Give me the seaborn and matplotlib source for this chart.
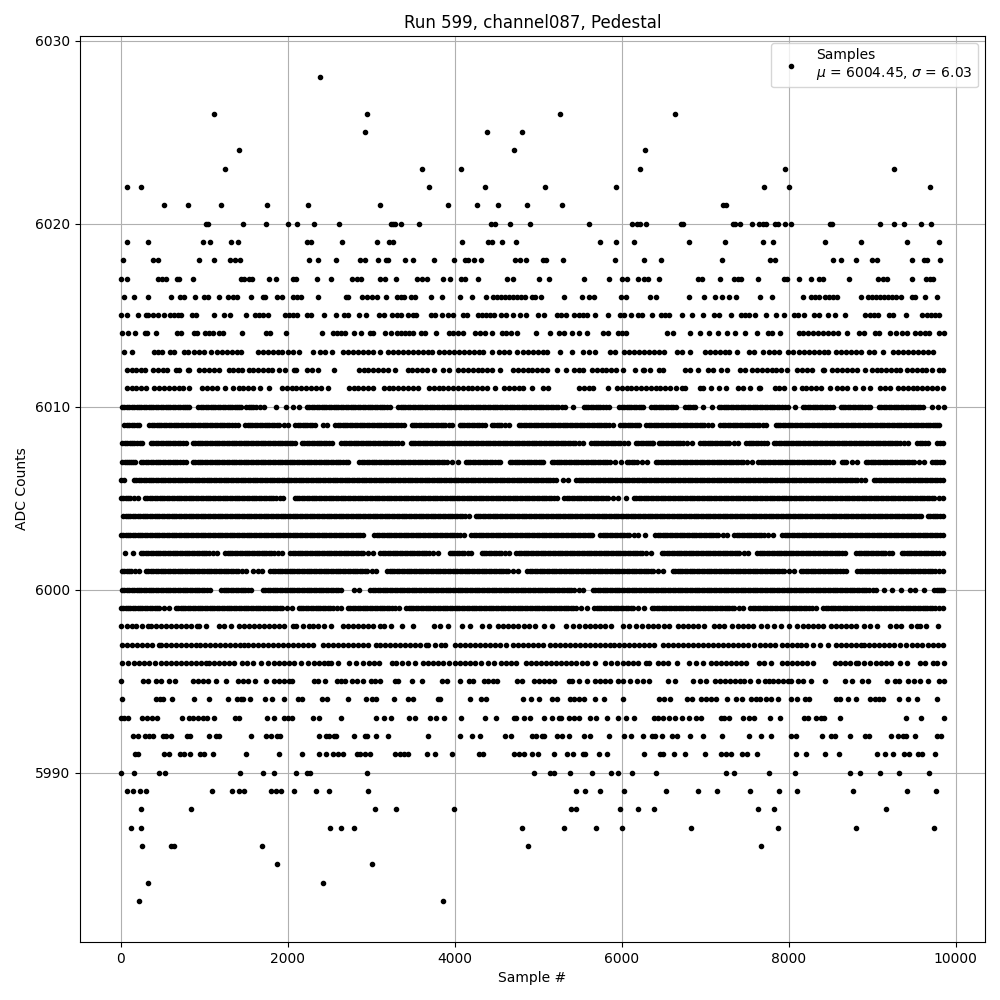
import pandas as pd
import matplotlib
matplotlib.use("Agg")
import matplotlib.pyplot as plt
import seaborn as sns

# sample numbers per ADC level
adc_6028 = [2384]
adc_6026 = [1124, 2948, 5268, 6636]
adc_6025 = [2924, 4388, 4808]
adc_6024 = [1412, 4712, 6276]
adc_6023 = [1244, 3608, 4076, 6216, 7956, 9264]
adc_6022 = [80, 248, 3692, 4364, 5088, 5928, 7704, 8004, 9696]
adc_6021 = [524, 812, 1196, 1748, 2240, 3104, 3920, 4268, 4520, 4868, 5292, 7212, 7252]
adc_6020 = [1020, 1044, 1460, 1736, 2000, 2108, 2312, 2612, 3240, 3268, 3292, 3356, 3572, 4432, 4488, 4664, 4904, 5604,
            6120, 6180, 6216, 6288, 6716, 6740, 7332, 7364, 7420, 7560, 7644, 7692, 7724, 7836, 7872, 7956, 8028, 8492,
            8516, 9096, 9264, 9384, 9588, 9708]
adc_6019 = [80, 332, 992, 1076, 1316, 1400, 2228, 2280, 2648, 3068, 3212, 3264, 4088, 4400, 4444, 4568, 4736, 5736, 5928,
            6144, 6804, 7236, 7692, 7812, 8436, 8868, 9420, 9804]
adc_6018 = [32, 392, 452, 944, 1124, 1304, 1364, 1424, 2252, 2360, 2576, 2864, 2924, 3080, 3176, 3200, 3404, 3500, 3752,
            3992, 4124, 4160, 4232, 4316, 4724, 4784, 4856, 5060, 5100, 5304, 5916, 6264, 6468, 7200, 7776, 7836, 8532,
            8624, 8808, 9000, 9060, 9476, 9624, 9660, 9816]
adc_6017 = [8, 80, 452, 500, 540, 680, 704, 872, 1436, 1472, 1532, 1568, 1772, 1856, 2060, 2100, 2348, 2516, 2768, 2828,
            2880, 3104, 3164, 3296, 3548, 3608, 3668, 3860, 3944, 4076, 4124, 4280, 4628, 4700, 5012, 5136, 5544, 5844,
            6000, 6060, 6192, 6272, 6312, 6444, 6912, 6960, 7176, 7344, 7392, 7428, 7632, 7944, 7980, 8124, 8268, 8364,
            8412, 8724, 9072, 9132, 9180, 9480, 9652, 9692, 9732]
adc_6016 = [44, 164, 332, 608, 716, 764, 896, 1004, 1044, 1172, 1280, 1340, 1388, 1556, 1700, 1732, 1868, 1928, 2060, 2108,
            2164, 2360, 2700, 2724, 2888, 2948, 3008, 3068, 3176, 3308, 3356, 3392, 3476, 3524, 3716, 3848, 4064, 4212,
            4376, 4460, 4508, 4556, 4604, 4652, 4700, 4748, 4796, 4844, 4928, 4964, 5032, 5312, 5520, 5604, 5664, 5988,
            6052, 6344, 6412, 6804, 6984, 7116, 7200, 7284, 7368, 7656, 7800, 8172, 8268, 8316, 8364, 8436, 8484, 8532,
            8580, 8868, 8952, 9000, 9048, 9096, 9144, 9192, 9240, 9288, 9348, 9480, 9516, 9636, 9780]
adc_6015 = [8, 80, 212, 308, 332, 392, 452, 524, 596, 644, 692, 728, 860, 908, 1124, 1232, 1304, 1496, 1604, 1652, 1700,
            1760, 1964, 2012, 2060, 2108, 2228, 2276, 2432, 2576, 2672, 2720, 2852, 2936, 3092, 3152, 3248, 3308, 3356,
            3440, 3500, 3536, 3716, 3764, 3848, 3920, 3980, 4100, 4148, 4280, 4328, 4376, 4424, 4472, 4556, 4616, 4700,
            4784, 4856, 5000, 5072, 5232, 5272, 5340, 5436, 5484, 5532, 5580, 5676, 5836, 5976, 6024, 6108, 6192, 6240,
            6360, 6468, 6516, 6564, 6720, 6840, 6972, 7104, 7164, 7312, 7428, 7476, 7524, 7596, 7728, 7848, 7944, 8064,
            8112, 8184, 8304, 8364, 8472, 8556, 8676, 8916, 8976, 9024, 9072, 9204, 9252, 9404, 9600, 9660, 9708, 9756, 9804]
adc_6014 = [20, 92, 176, 296, 320, 428, 680, 728, 884, 920, 1016, 1064, 1112, 1172, 1220, 1448, 1740, 1784, 1976, 2408,
            2540, 2588, 2636, 2684, 2792, 2876, 2984, 3020, 3164, 3236, 3308, 3356, 3404, 3452, 3500, 3596, 3644, 3776,
            3932, 3980, 4040, 4100, 4244, 4304, 4364, 4448, 4568, 4616, 4676, 4748, 4976, 5148, 5256, 5316, 5412, 5484,
            5580, 5772, 5832, 5952, 6000, 6048, 6540, 6612, 6816, 6936, 7044, 7152, 7260, 7356, 7476, 7620, 7752, 7800,
            7892, 8124, 8172, 8232, 8292, 8352, 8412, 8472, 8532, 8592, 8700, 8844, 8904, 9036, 9084, 9216, 9288, 9360,
            9420, 9516, 9576, 9636, 9684, 9804, 9860]
adc_6013 = [44, 140, 404, 452, 500, 596, 644, 764, 812, 884, 944, 1004, 1088, 1148, 1208, 1268, 1328, 1388, 1436, 1640,
            1700, 1760, 1820, 1880, 1928, 2000, 2060, 2132, 2300, 2384, 2444, 2528, 2660, 2720, 2780, 2840, 2900, 2960,
            3020, 3104, 3200, 3260, 3320, 3380, 3440, 3500, 3560, 3620, 3680, 3728, 3812, 3872, 3932, 3992, 4052, 4112,
            4172, 4232, 4292, 4340, 4448, 4532, 4592, 4652, 4748, 4820, 4880, 4940, 5000, 5060, 5108, 5268, 5412, 5532,
            5604, 5676, 5856, 5916, 6024, 6084, 6144, 6204, 6264, 6324, 6384, 6444, 6504, 6660, 6720, 6816, 6996, 7056,
            7116, 7176, 7236, 7284, 7380, 7524, 7584, 7692, 7764, 7824, 7884, 7992, 8052, 8124, 8184, 8244, 8304, 8364,
            8424, 8472, 8568, 8628, 8688, 8748, 8808, 8868, 8964, 9024, 9132, 9252, 9312, 9372, 9432, 9492, 9552, 9612,
            9672, 9732]
adc_6012 = [72, 130, 188, 246, 288, 392, 450, 508, 556, 660, 700, 804, 820, 940, 998, 1056, 1114, 1180, 1292, 1350, 1408,
            1448, 1532, 1590, 1648, 1706, 1764, 1808, 1900, 1974, 2072, 2096, 2232, 2290, 2368, 2560, 2852, 2910, 2968,
            3026, 3084, 3142, 3200, 3288, 3436, 3494, 3552, 3610, 3668, 3752, 3860, 3928, 4044, 4102, 4160, 4218, 4276,
            4334, 4392, 4450, 4540, 4700, 4758, 4816, 4874, 4932, 4990, 5048, 5108, 5232, 5332, 5436, 5494, 5540, 5644,
            5702, 5760, 5818, 5876, 5934, 6020, 6156, 6252, 6268, 6340, 6444, 6500, 6764, 6822, 6920, 7032, 7100, 7196,
            7260, 7424, 7480, 7564, 7622, 7680, 7738, 7796, 7854, 7912, 7980, 8104, 8162, 8220, 8280, 8412, 8428, 8524,
            8582, 8640, 8698, 8756, 8814, 8920, 8996, 9054, 9112, 9170, 9228, 9286, 9340, 9420, 9478, 9536, 9594, 9652,
            9720, 9804, 9852]
adc_6011 = [72, 130, 188, 246, 308, 404, 462, 520, 578, 636, 694, 752, 820, 980, 1038, 1096, 1154, 1248, 1340, 1412, 1470,
            1528, 1586, 1668, 1780, 1932, 1990, 2048, 2106, 2164, 2222, 2280, 2338, 2396, 2488, 2732, 2790, 2848, 2906,
            2964, 3020, 3152, 3210, 3268, 3326, 3384, 3442, 3500, 3556, 3692, 3750, 3808, 3866, 3924, 3982, 4040, 4098,
            4156, 4214, 4272, 4330, 4388, 4488, 4592, 4650, 4708, 4766, 4824, 4928, 5060, 5120, 5492, 5550, 5608, 5660,
            5832, 5944, 6002, 6060, 6118, 6176, 6234, 6292, 6350, 6408, 6466, 6524, 6582, 6652, 6724, 6760, 6944, 6972,
            7076, 7172, 7252, 7396, 7454, 7540, 7644, 7660, 7832, 7890, 7948, 8060, 8156, 8214, 8272, 8330, 8388, 8492,
            8584, 8642, 8700, 8800, 8892, 8972, 9100, 9158, 9220, 9312, 9370, 9428, 9486, 9544, 9602, 9660, 9718, 9776,
            9852]
adc_6010 = [16, 74, 132, 190, 248, 306, 364, 422, 480, 538, 596, 654, 712, 770, 820, 932, 990, 1048, 1106, 1164, 1222,
            1280, 1338, 1396, 1440, 1504, 1562, 1620, 1720, 1862, 1984, 2068, 2140, 2232, 2290, 2348, 2406, 2464, 2522,
            2580, 2638, 2696, 2754, 2812, 2870, 2928, 2986, 3044, 3102, 3160, 3228, 3324, 3382, 3440, 3498, 3556, 3614,
            3672, 3730, 3788, 3846, 3904, 3962, 4020, 4078, 4136, 4194, 4252, 4310, 4368, 4426, 4484, 4542, 4600, 4658,
            4716, 4774, 4832, 4890, 4948, 5006, 5064, 5122, 5180, 5238, 5328, 5424, 5544, 5602, 5660, 5718, 5776, 5852,
            5972, 6030, 6088, 6146, 6204, 6260, 6356, 6414, 6472, 6530, 6588, 6648, 6764, 6822, 6880, 6980, 7080, 7164,
            7222, 7280, 7338, 7396, 7454, 7512, 7570, 7628, 7686, 7744, 7802, 7860, 7918, 7988, 8076, 8172, 8230, 8288,
            8346, 8404, 8462, 8528, 8624, 8682, 8740, 8798, 8856, 8914, 8980, 9084, 9142, 9200, 9258, 9316, 9374, 9432,
            9490, 9548, 9612, 9724, 9788, 9860,
            45, 103, 161, 219, 277, 335, 393, 451, 509, 567, 625, 683, 741, 795, 961, 1019, 1077, 1135, 1193, 1251, 1309,
            1367, 1418, 1533, 1591, 1670, 2261, 2319, 2377, 2435, 2493, 2551, 2609, 2667, 2725, 2783, 2841, 2899, 2957,
            3015, 3073, 3131, 3194, 3353, 3411, 3469, 3527, 3585, 3643, 3701, 3759, 3817, 3875, 3933, 3991, 4049, 4107,
            4165, 4223, 4281, 4339, 4397, 4455, 4513, 4571, 4629, 4687, 4745, 4803, 4861, 4919, 4977, 5035, 5093, 5151,
            5209, 5283, 5573, 5631, 5689, 5747, 5814, 6001, 6059, 6117, 6175, 6232, 6385, 6443, 6501, 6559, 6618, 6793,
            6851, 7193, 7251, 7309, 7367, 7425, 7483, 7541, 7599, 7657, 7715, 7773, 7831, 7889, 7953, 8201, 8259, 8317,
            8375, 8433, 8495, 8653, 8711, 8769, 8827, 8885, 8947, 9113, 9171, 9229, 9287, 9345, 9403, 9461, 9519, 9580]
adc_6009 = [44, 102, 160, 220, 344, 402, 460, 518, 576, 634, 692, 750, 808, 866, 924, 982, 1040, 1098, 1156, 1214, 1272,
            1330, 1408, 1492, 1550, 1608, 1666, 1724, 1782, 1840, 1898, 2008, 2092, 2150, 2208, 2266, 2328, 2420, 2468,
            2572, 2630, 2688, 2746, 2804, 2862, 2920, 2978, 3036, 3094, 3152, 3210, 3268, 3326, 3388, 3484, 3542, 3600,
            3658, 3716, 3774, 3832, 3890, 3968, 4060, 4118, 4176, 4234, 4292, 4368, 4444, 4502, 4560, 4652, 4772, 4830,
            4888, 4946, 5004, 5062, 5120, 5178, 5236, 5294, 5352, 5410, 5468, 5526, 5584, 5642, 5700, 5758, 5816, 5892,
            5984, 6042, 6100, 6158, 6212, 6296, 6354, 6412, 6470, 6528, 6586, 6644, 6702, 6760, 6818, 6876, 6934, 6992,
            7080, 7184, 7242, 7300, 7358, 7416, 7474, 7532, 7590, 7648, 7732, 7844, 7902, 7960, 8018, 8076, 8134, 8192,
            8250, 8308, 8366, 8424, 8482, 8540, 8598, 8656, 8714, 8772, 8830, 8888, 8946, 9004, 9062, 9120, 9178, 9236,
            9294, 9352, 9410, 9468, 9526, 9584, 9642, 9700, 9758, 9808,
            73, 131, 190, 373, 431, 489, 547, 605, 663, 721, 779, 837, 895, 953, 1011, 1069, 1127, 1185, 1243, 1301, 1369,
            1521, 1579, 1637, 1695, 1753, 1811, 1869, 1953, 2121, 2179, 2237, 2297, 2601, 2659, 2717, 2775, 2833, 2891,
            2949, 3007, 3065, 3123, 3181, 3239, 3297, 3357, 3513, 3571, 3629, 3687, 3745, 3803, 3861, 3929, 4089, 4147,
            4205, 4263, 4330, 4473, 4531, 4606, 4801, 4859, 4917, 4975, 5033, 5091, 5149, 5207, 5265, 5323, 5381, 5439,
            5497, 5555, 5613, 5671, 5729, 5787, 5854, 6013, 6071, 6129, 6185, 6325, 6383, 6441, 6499, 6557, 6615, 6673,
            6731, 6789, 6847, 6905, 6963, 7036, 7213, 7271, 7329, 7387, 7445, 7503, 7561, 7619, 7690, 7873, 7931, 7989,
            8047, 8105, 8163, 8221, 8279, 8337, 8395, 8453, 8511, 8569, 8627, 8685, 8743, 8801, 8859, 8917, 8975, 9033,
            9091, 9149, 9207, 9265, 9323, 9381, 9439, 9497, 9555, 9613, 9671, 9729, 9783]
adc_6008 = [20, 78, 136, 194, 260, 364, 422, 480, 538, 596, 654, 712, 780, 864, 922, 980, 1038, 1096, 1154, 1212, 1270,
            1328, 1386, 1444, 1502, 1560, 1618, 1676, 1734, 1792, 1850, 1908, 1966, 2024, 2088, 2172, 2230, 2288, 2346,
            2404, 2462, 2532, 2644, 2702, 2760, 2818, 2876, 2934, 2992, 3050, 3108, 3166, 3224, 3282, 3368, 3472, 3530,
            3588, 3646, 3704, 3762, 3820, 3878, 3936, 3994, 4052, 4110, 4168, 4226, 4284, 4342, 4400, 4458, 4516, 4574,
            4632, 4690, 4748, 4806, 4864, 4922, 4980, 5038, 5096, 5154, 5212, 5270, 5328, 5386, 5444, 5532, 5636, 5694,
            5752, 5810, 5868, 5926, 5984, 6072, 6172, 6230, 6288, 6346, 6380, 6444, 6502, 6560, 6618, 6676, 6734, 6840,
            6944, 7002, 7060, 7118, 7176, 7234, 7292, 7392, 7492, 7550, 7608, 7666, 7740, 7824, 7882, 7940, 7998, 8056,
            8114, 8172, 8230, 8288, 8346, 8404, 8462, 8520, 8578, 8636, 8694, 8752, 8810, 8868, 8926, 8984, 9042, 9100,
            9158, 9216, 9274, 9332, 9428, 9544, 9602, 9672, 9776, 9852,
            49, 107, 165, 227, 393, 451, 509, 567, 625, 683, 746, 893, 951, 1009, 1067, 1125, 1183, 1241, 1299, 1357, 1415,
            1473, 1531, 1589, 1647, 1705, 1763, 1821, 1879, 1937, 1995, 2056, 2201, 2259, 2317, 2375, 2433, 2497, 2673,
            2731, 2789, 2847, 2905, 2963, 3021, 3079, 3137, 3195, 3253, 3325, 3501, 3559, 3617, 3675, 3733, 3791, 3849,
            3907, 3965, 4023, 4081, 4139, 4197, 4255, 4313, 4371, 4429, 4487, 4545, 4603, 4661, 4719, 4777, 4835, 4893,
            4951, 5009, 5067, 5125, 5183, 5241, 5299, 5357, 5415, 5488, 5665, 5723, 5781, 5839, 5897, 5955, 6028, 6201,
            6259, 6317, 6363, 6473, 6531, 6589, 6647, 6705, 6787, 6973, 7031, 7089, 7147, 7205, 7263, 7342, 7521, 7579,
            7637, 7703, 7853, 7911, 7969, 8027, 8085, 8143, 8201, 8259, 8317, 8375, 8433, 8491, 8549, 8607, 8665, 8723,
            8781, 8839, 8897, 8955, 9013, 9071, 9129, 9187, 9245, 9303, 9380, 9573, 9637, 9814]
adc_6007 = [20, 78, 120, 168, 244, 302, 360, 418, 476, 534, 592, 650, 708, 780, 864, 922, 980, 1038, 1096, 1154, 1212,
            1270, 1328, 1386, 1444, 1502, 1560, 1618, 1676, 1734, 1792, 1850, 1908, 1966, 2024, 2082, 2140, 2198, 2256,
            2314, 2372, 2430, 2488, 2546, 2604, 2662, 2728, 2860, 2918, 2976, 3034, 3092, 3150, 3208, 3266, 3324, 3382,
            3440, 3498, 3556, 3614, 3672, 3730, 3788, 3846, 3904, 4036, 4132, 4190, 4248, 4306, 4364, 4422, 4480, 4548,
            4660, 4718, 4776, 4834, 4892, 4950, 5008, 5060, 5164, 5222, 5280, 5338, 5396, 5454, 5512, 5570, 5628, 5686,
            5744, 5802, 5860, 5988, 6064, 6122, 6180, 6300, 6412, 6470, 6528, 6586, 6644, 6702, 6760, 6818, 6876, 6934,
            6992, 7050, 7108, 7166, 7224, 7282, 7340, 7398, 7456, 7560, 7636, 7694, 7752, 7810, 7868, 7926, 7984, 8042,
            8100, 8158, 8216, 8274, 8332, 8390, 8448, 8532, 8636, 8694, 8820, 8924, 8982, 9040, 9098, 9156, 9214, 9272,
            9330, 9388, 9446, 9504, 9620, 9724, 9782, 9852,
            49, 99, 144, 273, 331, 389, 447, 505, 563, 621, 679, 744, 893, 951, 1009, 1067, 1125, 1183, 1241, 1299, 1357,
            1415, 1473, 1531, 1589, 1647, 1705, 1763, 1821, 1879, 1937, 1995, 2053, 2111, 2169, 2227, 2285, 2343, 2401,
            2459, 2517, 2575, 2633, 2695, 2889, 2947, 3005, 3063, 3121, 3179, 3237, 3295, 3353, 3411, 3469, 3527, 3585,
            3643, 3701, 3759, 3817, 3875, 3970, 4161, 4219, 4277, 4335, 4393, 4451, 4514, 4689, 4747, 4805, 4863, 4921,
            4979, 5034, 5193, 5251, 5309, 5367, 5425, 5483, 5541, 5599, 5657, 5715, 5773, 5831, 5924, 6093, 6151, 6240,
            6441, 6499, 6557, 6615, 6673, 6731, 6789, 6847, 6905, 6963, 7021, 7079, 7137, 7195, 7253, 7311, 7369, 7427,
            7508, 7665, 7723, 7781, 7839, 7897, 7955, 8013, 8071, 8129, 8187, 8245, 8303, 8361, 8419, 8490, 8665, 8757,
            8953, 9011, 9069, 9127, 9185, 9243, 9301, 9359, 9417, 9475, 9562, 9753, 9817]
adc_6006 = [0, 36, 160, 218, 276, 334, 392, 450, 508, 566, 624, 682, 740, 798, 856, 914, 972, 1030, 1088, 1146, 1204, 1262,
            1320, 1378, 1436, 1494, 1552, 1610, 1668, 1726, 1784, 1842, 1900, 1958, 2016, 2074, 2132, 2190, 2248, 2306,
            2364, 2422, 2480, 2538, 2596, 2654, 2712, 2770, 2828, 2886, 2944, 3002, 3060, 3118, 3176, 3234, 3292, 3350,
            3408, 3466, 3524, 3582, 3640, 3698, 3756, 3814, 3872, 3930, 3988, 4046, 4104, 4162, 4220, 4278, 4336, 4394,
            4452, 4510, 4568, 4626, 4684, 4742, 4800, 4858, 4916, 4974, 5032, 5090, 5148, 5212, 5300, 5360, 5456, 5514,
            5572, 5630, 5688, 5746, 5804, 5862, 5920, 5978, 6036, 6094, 6152, 6210, 6268, 6326, 6384, 6442, 6500, 6558,
            6616, 6674, 6732, 6790, 6848, 6906, 6964, 7022, 7080, 7138, 7196, 7254, 7312, 7370, 7428, 7486, 7544, 7602,
            7660, 7718, 7776, 7834, 7892, 7950, 8008, 8066, 8124, 8182, 8240, 8298, 8356, 8414, 8472, 8530, 8588, 8646,
            8704, 8762, 8820, 8920, 9024, 9082, 9140, 9198, 9256, 9314, 9372, 9430, 9488, 9546, 9604, 9662, 9720, 9778,
            9852,
            189, 247, 305, 363, 421, 479, 537, 595, 653, 711, 769, 827, 885, 943, 1001, 1059, 1117, 1175, 1233, 1291, 1349,
            1407, 1465, 1523, 1581, 1639, 1697, 1755, 1813, 1871, 1929, 1987, 2045, 2103, 2161, 2219, 2277, 2335, 2393,
            2451, 2509, 2567, 2625, 2683, 2741, 2799, 2857, 2915, 2973, 3031, 3089, 3147, 3205, 3263, 3321, 3379, 3437,
            3495, 3553, 3611, 3669, 3727, 3785, 3843, 3901, 3959, 4017, 4075, 4133, 4191, 4249, 4307, 4365, 4423, 4481,
            4539, 4597, 4655, 4713, 4771, 4829, 4887, 4945, 5003, 5061, 5119, 5180, 5485, 5543, 5601, 5659, 5717, 5775,
            5833, 5891, 5949, 6007, 6065, 6123, 6181, 6239, 6297, 6355, 6413, 6471, 6529, 6587, 6645, 6703, 6761, 6819,
            6877, 6935, 6993, 7051, 7109, 7167, 7225, 7283, 7341, 7399, 7457, 7515, 7573, 7631, 7689, 7747, 7805, 7863,
            7921, 7979, 8037, 8095, 8153, 8211, 8269, 8327, 8385, 8443, 8501, 8559, 8617, 8675, 8733, 8791, 8870, 9053,
            9111, 9169, 9227, 9285, 9343, 9401, 9459, 9517, 9575, 9633, 9691, 9749, 9815]
adc_6005 = [0, 58, 116, 208, 292, 350, 408, 466, 524, 582, 640, 698, 756, 814, 872, 930, 988, 1046, 1104, 1162, 1220, 1278,
            1336, 1394, 1452, 1510, 1568, 1626, 1684, 1742, 1800, 1858, 1948, 2084, 2142, 2200, 2258, 2316, 2374, 2432,
            2490, 2548, 2606, 2664, 2722, 2780, 2838, 2896, 2954, 3012, 3070, 3128, 3186, 3244, 3302, 3360, 3418, 3476,
            3534, 3592, 3650, 3708, 3766, 3824, 3882, 3940, 3998, 4056, 4114, 4172, 4230, 4288, 4346, 4404, 4462, 4520,
            4578, 4636, 4694, 4752, 4810, 4868, 4926, 4984, 5042, 5100, 5158, 5228, 5316, 5374, 5432, 5490, 5548, 5606,
            5664, 5722, 5780, 5838, 5960, 6052, 6148, 6206, 6264, 6322, 6380, 6438, 6496, 6554, 6612, 6670, 6728, 6786,
            6844, 6902, 6960, 7018, 7076, 7134, 7192, 7250, 7308, 7366, 7424, 7482, 7540, 7598, 7656, 7714, 7772, 7830,
            7888, 7946, 8004, 8062, 8120, 8178, 8236, 8294, 8352, 8410, 8468, 8526, 8584, 8642, 8700, 8758, 8816, 8874,
            8932, 8990, 9048, 9106, 9164, 9222, 9280, 9338, 9396, 9454, 9512, 9570, 9628, 9686, 9744, 9852,
            29, 87, 162, 321, 379, 437, 495, 553, 611, 669, 727, 785, 843, 901, 959, 1017, 1075, 1133, 1191, 1249, 1307,
            1365, 1423, 1481, 1539, 1597, 1655, 1713, 1771, 1829, 1903, 2113, 2171, 2229, 2287, 2345, 2403, 2461, 2519,
            2577, 2635, 2693, 2751, 2809, 2867, 2925, 2983, 3041, 3099, 3157, 3215, 3273, 3331, 3389, 3447, 3505, 3563,
            3621, 3679, 3737, 3795, 3853, 3911, 3969, 4027, 4085, 4143, 4201, 4259, 4317, 4375, 4433, 4491, 4549, 4607,
            4665, 4723, 4781, 4839, 4897, 4955, 5013, 5071, 5129, 5193, 5345, 5403, 5461, 5519, 5577, 5635, 5693, 5751,
            5809, 5899, 6177, 6235, 6293, 6351, 6409, 6467, 6525, 6583, 6641, 6699, 6757, 6815, 6873, 6931, 6989, 7047,
            7105, 7163, 7221, 7279, 7337, 7395, 7453, 7511, 7569, 7627, 7685, 7743, 7801, 7859, 7917, 7975, 8033, 8091,
            8149, 8207, 8265, 8323, 8381, 8439, 8497, 8555, 8613, 8671, 8729, 8787, 8845, 8903, 8961, 9019, 9077, 9135,
            9193, 9251, 9309, 9367, 9425, 9483, 9541, 9599, 9657, 9715, 9798]
adc_6004 = [30, 88, 146, 204, 262, 320, 378, 436, 494, 552, 610, 668, 726, 784, 842, 900, 958, 1016, 1074, 1132, 1190, 1248,
            1306, 1364, 1422, 1480, 1538, 1596, 1654, 1712, 1770, 1828, 1886, 1944, 2002, 2060, 2118, 2176, 2234, 2292,
            2350, 2408, 2466, 2524, 2582, 2640, 2698, 2756, 2814, 2872, 2930, 2988, 3046, 3104, 3162, 3220, 3278, 3336,
            3394, 3452, 3510, 3568, 3626, 3684, 3742, 3800, 3858, 3916, 3974, 4032, 4090, 4168, 4252, 4310, 4368, 4426,
            4484, 4542, 4600, 4658, 4716, 4774, 4832, 4890, 4948, 5006, 5064, 5122, 5180, 5238, 5296, 5354, 5412, 5470,
            5528, 5586, 5644, 5702, 5760, 5818, 5876, 5934, 5992, 6050, 6108, 6166, 6224, 6282, 6340, 6398, 6456, 6514,
            6572, 6630, 6688, 6746, 6804, 6862, 6920, 6978, 7036, 7094, 7152, 7210, 7268, 7326, 7384, 7442, 7500, 7558,
            7616, 7674, 7732, 7790, 7848, 7906, 7964, 8022, 8080, 8138, 8196, 8254, 8312, 8370, 8428, 8486, 8544, 8602,
            8660, 8718, 8776, 8834, 8892, 8950, 9008, 9066, 9124, 9182, 9240, 9298, 9356, 9414, 9472, 9530, 9592, 9668,
            9726, 9784, 9852,
            59, 117, 175, 233, 291, 349, 407, 465, 523, 581, 639, 697, 755, 813, 871, 929, 987, 1045, 1103, 1161, 1219,
            1277, 1335, 1393, 1451, 1509, 1567, 1625, 1683, 1741, 1799, 1857, 1915, 1973, 2031, 2089, 2147, 2205, 2263,
            2321, 2379, 2437, 2495, 2553, 2611, 2669, 2727, 2785, 2843, 2901, 2959, 3017, 3075, 3133, 3191, 3249, 3307,
            3365, 3423, 3481, 3539, 3597, 3655, 3713, 3771, 3829, 3887, 3945, 4003, 4061, 4129, 4281, 4339, 4397, 4455,
            4513, 4571, 4629, 4687, 4745, 4803, 4861, 4919, 4977, 5035, 5093, 5151, 5209, 5267, 5325, 5383, 5441, 5499,
            5557, 5615, 5673, 5731, 5789, 5847, 5905, 5963, 6021, 6079, 6137, 6195, 6253, 6311, 6369, 6427, 6485, 6543,
            6601, 6659, 6717, 6775, 6833, 6891, 6949, 7007, 7065, 7123, 7181, 7239, 7297, 7355, 7413, 7471, 7529, 7587,
            7645, 7703, 7761, 7819, 7877, 7935, 7993, 8051, 8109, 8167, 8225, 8283, 8341, 8399, 8457, 8515, 8573, 8631,
            8689, 8747, 8805, 8863, 8921, 8979, 9037, 9095, 9153, 9211, 9269, 9327, 9385, 9443, 9501, 9561, 9697, 9755, 9818]
adc_6003 = [0, 58, 116, 174, 232, 290, 348, 406, 464, 522, 580, 638, 696, 754, 812, 870, 928, 986, 1044, 1102, 1160, 1218,
            1276, 1334, 1392, 1450, 1508, 1566, 1624, 1682, 1740, 1798, 1856, 1914, 1972, 2030, 2088, 2146, 2204, 2262,
            2320, 2378, 2436, 2494, 2552, 2610, 2668, 2726, 2784, 2842, 2900, 3040, 3098, 3156, 3214, 3272, 3330, 3388,
            3446, 3504, 3562, 3620, 3678, 3736, 3794, 3852, 3910, 3968, 4026, 4108, 4200, 4258, 4316, 4374, 4432, 4490,
            4548, 4606, 4664, 4722, 4780, 4838, 4896, 4954, 5012, 5070, 5128, 5186, 5244, 5302, 5360, 5418, 5476, 5534,
            5592, 5648, 5744, 5802, 5860, 5918, 5976, 6034, 6092, 6200, 6284, 6404, 6462, 6520, 6578, 6636, 6694, 6752,
            6810, 6868, 6926, 6984, 7042, 7100, 7158, 7260, 7352, 7410, 7468, 7526, 7584, 7642, 7700, 7808, 7924, 7982,
            8040, 8098, 8156, 8214, 8272, 8330, 8388, 8446, 8504, 8562, 8620, 8678, 8736, 8794, 8852, 8910, 8968, 9026,
            9084, 9142, 9200, 9258, 9316, 9374, 9432, 9490, 9548, 9606, 9664, 9722, 9780, 9852,
            29, 87, 145, 203, 261, 319, 377, 435, 493, 551, 609, 667, 725, 783, 841, 899, 957, 1015, 1073, 1131, 1189, 1247,
            1305, 1363, 1421, 1479, 1537, 1595, 1653, 1711, 1769, 1827, 1885, 1943, 2001, 2059, 2117, 2175, 2233, 2291,
            2349, 2407, 2465, 2523, 2581, 2639, 2697, 2755, 2813, 2871, 3069, 3127, 3185, 3243, 3301, 3359, 3417, 3475,
            3533, 3591, 3649, 3707, 3765, 3823, 3881, 3939, 3997, 4067, 4229, 4287, 4345, 4403, 4461, 4519, 4577, 4635,
            4693, 4751, 4809, 4867, 4925, 4983, 5041, 5099, 5157, 5215, 5273, 5331, 5389, 5447, 5505, 5563, 5620, 5773,
            5831, 5889, 5947, 6005, 6063, 6146, 6433, 6491, 6549, 6607, 6665, 6723, 6781, 6839, 6897, 6955, 7013, 7071,
            7129, 7209, 7381, 7439, 7497, 7555, 7613, 7671, 7754, 7953, 8011, 8069, 8127, 8185, 8243, 8301, 8359, 8417,
            8475, 8533, 8591, 8649, 8707, 8765, 8823, 8881, 8939, 8997, 9055, 9113, 9171, 9229, 9287, 9345, 9403, 9461,
            9519, 9577, 9635, 9693, 9751, 9816]
adc_6002 = [52, 148, 244, 302, 360, 418, 476, 534, 592, 650, 708, 766, 824, 882, 940, 998, 1056, 1148, 1252, 1310, 1368,
            1426, 1484, 1542, 1600, 1658, 1716, 1774, 1832, 1928, 2032, 2090, 2148, 2206, 2264, 2322, 2380, 2438, 2496,
            2554, 2612, 2670, 2728, 2786, 2844, 2902, 3020, 3112, 3170, 3228, 3286, 3344, 3402, 3460, 3518, 3576, 3634,
            3692, 3796, 3940, 3998, 4056, 4114, 4196, 4324, 4382, 4440, 4498, 4556, 4648, 4740, 4798, 4856, 4914, 4972,
            5030, 5088, 5146, 5204, 5262, 5320, 5378, 5436, 5494, 5552, 5610, 5668, 5726, 5784, 5842, 5900, 5958, 6016,
            6074, 6132, 6190, 6248, 6348, 6484, 6542, 6600, 6658, 6716, 6774, 6832, 6890, 6948, 7006, 7064, 7122, 7180,
            7238, 7296, 7354, 7412, 7512, 7624, 7682, 7740, 7798, 7856, 7914, 7972, 8030, 8088, 8146, 8204, 8262, 8320,
            8378, 8436, 8494, 8552, 8610, 8680, 8812, 8870, 8928, 8986, 9044, 9102, 9160, 9240, 9356, 9414, 9472, 9530,
            9588, 9646, 9704, 9762, 9852,
            273, 331, 389, 447, 505, 563, 621, 679, 737, 795, 853, 911, 969, 1027, 1102, 1281, 1339, 1397, 1455, 1513, 1571,
            1629, 1687, 1745, 1803, 1880, 2061, 2119, 2177, 2235, 2293, 2351, 2409, 2467, 2525, 2583, 2641, 2699, 2757,
            2815, 2873, 2961, 3141, 3199, 3257, 3315, 3373, 3431, 3489, 3547, 3605, 3663, 3744, 3969, 4027, 4085, 4155,
            4353, 4411, 4469, 4527, 4602, 4769, 4827, 4885, 4943, 5001, 5059, 5117, 5175, 5233, 5291, 5349, 5407, 5465,
            5523, 5581, 5639, 5697, 5755, 5813, 5871, 5929, 5987, 6045, 6103, 6161, 6219, 6298, 6513, 6571, 6629, 6687,
            6745, 6803, 6861, 6919, 6977, 7035, 7093, 7151, 7209, 7267, 7325, 7383, 7462, 7653, 7711, 7769, 7827, 7885,
            7943, 8001, 8059, 8117, 8175, 8233, 8291, 8349, 8407, 8465, 8523, 8581, 8645, 8841, 8899, 8957, 9015, 9073,
            9131, 9200, 9385, 9443, 9501, 9559, 9617, 9675, 9733, 9807]
adc_6001 = [12, 70, 128, 216, 304, 362, 420, 478, 536, 594, 652, 710, 768, 826, 884, 942, 1000, 1058, 1116, 1174, 1232,
            1290, 1348, 1406, 1496, 1584, 1640, 1696, 1792, 1850, 1908, 1966, 2024, 2082, 2140, 2198, 2256, 2314, 2372,
            2430, 2488, 2546, 2604, 2662, 2720, 2778, 2836, 2894, 2952, 3060, 3192, 3250, 3308, 3366, 3424, 3482, 3540,
            3598, 3656, 3714, 3772, 3830, 3888, 3946, 4004, 4062, 4120, 4178, 4236, 4294, 4352, 4410, 4468, 4526, 4584,
            4642, 4756, 4872, 4930, 4988, 5046, 5104, 5162, 5220, 5278, 5336, 5394, 5452, 5510, 5568, 5626, 5684, 5742,
            5800, 5858, 5916, 5974, 6032, 6090, 6148, 6206, 6264, 6322, 6380, 6492, 6612, 6670, 6728, 6786, 6844, 6902,
            6960, 7018, 7076, 7134, 7192, 7250, 7308, 7366, 7424, 7482, 7540, 7598, 7656, 7714, 7772, 7830, 7888, 7946,
            8060, 8148, 8206, 8264, 8322, 8380, 8438, 8496, 8554, 8612, 8688, 8824, 8882, 8940, 8998, 9056, 9114, 9172,
            9230, 9288, 9346, 9404, 9462, 9520, 9578, 9636, 9694, 9752, 9852,
            41, 99, 172, 333, 391, 449, 507, 565, 623, 681, 739, 797, 855, 913, 971, 1029, 1087, 1145, 1203, 1261, 1319,
            1377, 1451, 1821, 1879, 1937, 1995, 2053, 2111, 2169, 2227, 2285, 2343, 2401, 2459, 2517, 2575, 2633, 2691,
            2749, 2807, 2865, 2923, 3006, 3221, 3279, 3337, 3395, 3453, 3511, 3569, 3627, 3685, 3743, 3801, 3859, 3917,
            3975, 4033, 4091, 4149, 4207, 4265, 4323, 4381, 4439, 4497, 4555, 4613, 4699, 4901, 4959, 5017, 5075, 5133,
            5191, 5249, 5307, 5365, 5423, 5481, 5539, 5597, 5655, 5713, 5771, 5829, 5887, 5945, 6003, 6061, 6119, 6177,
            6235, 6293, 6351, 6436, 6641, 6699, 6757, 6815, 6873, 6931, 6989, 7047, 7105, 7163, 7221, 7279, 7337, 7395,
            7453, 7511, 7569, 7627, 7685, 7743, 7801, 7859, 7917, 8003, 8177, 8235, 8293, 8351, 8409, 8467, 8525, 8583,
            8650, 8853, 8911, 8969, 9027, 9085, 9143, 9201, 9259, 9317, 9375, 9433, 9491, 9549, 9607, 9665, 9723, 9802]
adc_6000 = [16, 74, 132, 190, 248, 306, 364, 422, 480, 538, 596, 654, 712, 770, 828, 886, 944, 1002, 1076, 1204, 1262, 1320,
            1378, 1436, 1494, 1556, 1704, 1762, 1820, 1878, 1936, 1994, 2052, 2110, 2168, 2226, 2284, 2342, 2400, 2458,
            2516, 2574, 2636, 2800, 2860, 2992, 3050, 3108, 3166, 3224, 3282, 3340, 3398, 3456, 3514, 3572, 3630, 3688,
            3746, 3804, 3862, 3920, 3978, 4036, 4094, 4152, 4210, 4268, 4326, 4384, 4442, 4500, 4558, 4616, 4674, 4732,
            4790, 4848, 4906, 4964, 5022, 5080, 5138, 5196, 5254, 5312, 5370, 5428, 5540, 5656, 5714, 5772, 5830, 5888,
            5946, 6004, 6062, 6120, 6178, 6236, 6294, 6352, 6410, 6468, 6526, 6584, 6642, 6700, 6758, 6816, 6874, 6932,
            6990, 7048, 7106, 7164, 7222, 7280, 7338, 7396, 7454, 7512, 7570, 7628, 7686, 7744, 7802, 7860, 7918, 7976,
            8034, 8092, 8150, 8208, 8266, 8324, 8382, 8440, 8498, 8556, 8614, 8672, 8730, 8788, 8846, 8904, 8962, 9052,
            9144, 9240, 9352, 9452, 9510, 9620, 9744, 9802, 9852,
            45, 103, 161, 219, 277, 335, 393, 451, 509, 567, 625, 683, 741, 799, 857, 915, 973, 1039, 1233, 1291, 1349,
            1407, 1465, 1525, 1733, 1791, 1849, 1907, 1965, 2023, 2081, 2139, 2197, 2255, 2313, 2371, 2429, 2487, 2545,
            2605, 3021, 3079, 3137, 3195, 3253, 3311, 3369, 3427, 3485, 3543, 3601, 3659, 3717, 3775, 3833, 3891, 3949,
            4007, 4065, 4123, 4181, 4239, 4297, 4355, 4413, 4471, 4529, 4587, 4645, 4703, 4761, 4819, 4877, 4935, 4993,
            5051, 5109, 5167, 5225, 5283, 5341, 5399, 5484, 5685, 5743, 5801, 5859, 5917, 5975, 6033, 6091, 6149, 6207,
            6265, 6323, 6381, 6439, 6497, 6555, 6613, 6671, 6729, 6787, 6845, 6903, 6961, 7019, 7077, 7135, 7193, 7251,
            7309, 7367, 7425, 7483, 7541, 7599, 7657, 7715, 7773, 7831, 7889, 7947, 8005, 8063, 8121, 8179, 8237, 8295,
            8353, 8411, 8469, 8527, 8585, 8643, 8701, 8759, 8817, 8875, 8933, 9007, 9773, 9827]
adc_5999 = [0, 58, 116, 174, 232, 290, 348, 406, 464, 580, 660, 718, 776, 834, 892, 950, 1008, 1066, 1124, 1182, 1240, 1298,
            1356, 1414, 1472, 1530, 1588, 1646, 1704, 1762, 1820, 1878, 1936, 2048, 2132, 2190, 2248, 2306, 2364, 2422,
            2480, 2538, 2640, 2724, 2782, 2840, 2898, 2956, 3014, 3072, 3130, 3188, 3246, 3328, 3420, 3478, 3536, 3594,
            3652, 3710, 3768, 3826, 3884, 3942, 4000, 4058, 4116, 4174, 4232, 4290, 4348, 4406, 4464, 4522, 4580, 4638,
            4696, 4754, 4812, 4870, 4928, 4986, 5044, 5102, 5160, 5218, 5276, 5334, 5392, 5450, 5580, 5672, 5730, 5788,
            5846, 5904, 5962, 6020, 6078, 6136, 6268, 6364, 6422, 6480, 6538, 6596, 6654, 6712, 6770, 6828, 6886, 6944,
            7002, 7060, 7118, 7176, 7234, 7292, 7350, 7460, 7544, 7602, 7660, 7718, 7776, 7834, 7892, 7950, 8008, 8066,
            8124, 8182, 8240, 8328, 8416, 8474, 8532, 8590, 8648, 8706, 8764, 8822, 8880, 8938, 8996, 9054, 9112, 9170,
            9228, 9286, 9344, 9402, 9460, 9518, 9576, 9634, 9692, 9750, 9852,
            29, 87, 145, 203, 261, 319, 377, 435, 522, 689, 747, 805, 863, 921, 979, 1037, 1095, 1153, 1211, 1269, 1327,
            1385, 1443, 1501, 1559, 1617, 1675, 1733, 1791, 1849, 1907, 1992, 2161, 2219, 2277, 2335, 2393, 2451, 2509,
            2589, 2753, 2811, 2869, 2927, 2985, 3043, 3101, 3159, 3217, 3287, 3449, 3507, 3565, 3623, 3681, 3739, 3797,
            3855, 3913, 3971, 4029, 4087, 4145, 4203, 4261, 4319, 4377, 4435, 4493, 4551, 4609, 4667, 4725, 4783, 4841,
            4899, 4957, 5015, 5073, 5131, 5189, 5247, 5305, 5363, 5421, 5515, 5701, 5759, 5817, 5875, 5933, 5991, 6049,
            6107, 6202, 6393, 6451, 6509, 6567, 6625, 6683, 6741, 6799, 6857, 6915, 6973, 7031, 7089, 7147, 7205, 7263,
            7321, 7405, 7573, 7631, 7689, 7747, 7805, 7863, 7921, 7979, 8037, 8095, 8153, 8211, 8284, 8445, 8503, 8561,
            8619, 8677, 8735, 8793, 8851, 8909, 8967, 9025, 9083, 9141, 9199, 9257, 9315, 9373, 9431, 9489, 9547, 9605,
            9663, 9721, 9801]
adc_5998 = [0, 70, 140, 180, 250, 324, 368, 428, 488, 548, 608, 668, 728, 788, 848, 920, 940, 1020, 1172, 1240, 1320, 1412,
            1472, 1532, 1592, 1652, 1712, 1772, 1832, 1892, 1952, 2060, 2100, 2180, 2260, 2300, 2360, 2440, 2520, 2660,
            2720, 2780, 2840, 2900, 2960, 3020, 3112, 3160, 3240, 3368, 3500, 3752, 3828, 3920, 4088, 4180, 4328, 4412,
            4520, 4580, 4640, 4700, 4760, 4828, 4892, 4964, 5072, 5164, 5332, 5424, 5484, 5564, 5624, 5684, 5744, 5804,
            5872, 6012, 6092, 6172, 6240, 6312, 6372, 6432, 6504, 6572, 6672, 6732, 6792, 6852, 6920, 6984, 7112, 7172,
            7232, 7324, 7392, 7452, 7512, 7572, 7672, 7740, 7824, 7914, 8004, 8104, 8172, 8232, 8292, 8352, 8412, 8512,
            8564, 8624, 8684, 8752, 8812, 8904, 8972, 9060, 9212, 9284, 9352, 9472, 9540, 9580, 9652, 9792]
adc_5997 = [20, 80, 140, 200, 260, 320, 380, 460, 488, 548, 608, 668, 728, 788, 848, 908, 948, 1008, 1068, 1128, 1188, 1248,
            1308, 1368, 1428, 1480, 1520, 1580, 1640, 1700, 1760, 1820, 1880, 1940, 2000, 2060, 2120, 2180, 2240, 2300,
            2420, 2480, 2540, 2600, 2660, 2720, 2780, 2840, 2900, 2960, 3060, 3108, 3168, 3228, 3288, 3348, 3408, 3468,
            3528, 3588, 3652, 3680, 3760, 3840, 3884, 4000, 4060, 4120, 4180, 4240, 4300, 4360, 4420, 4480, 4540, 4620,
            4700, 4760, 4820, 4880, 4940, 5000, 5060, 5140, 5200, 5260, 5320, 5380, 5440, 5500, 5560, 5620, 5680, 5740,
            5800, 5864, 5904, 5964, 6024, 6084, 6144, 6204, 6264, 6324, 6384, 6492, 6552, 6612, 6672, 6732, 6792, 6852,
            6912, 6972, 7032, 7092, 7152, 7212, 7272, 7332, 7392, 7452, 7512, 7592, 7652, 7712, 7772, 7832, 7924, 7980,
            8040, 8100, 8152, 8212, 8296, 8380, 8472, 8572, 8632, 8692, 8752, 8812, 8872, 8904, 8964, 9024, 9084, 9144,
            9204, 9264, 9340, 9412, 9476, 9540, 9600, 9672, 9732, 9792, 9852]
adc_5996 = [12, 92, 160, 220, 280, 340, 412, 480, 540, 600, 660, 720, 780, 840, 900, 960, 1028, 1060, 1120, 1180, 1240, 1300,
            1360, 1452, 1508, 1590, 1676, 1760, 1840, 1900, 1960, 2020, 2080, 2164, 2240, 2312, 2380, 2430, 2480, 2520,
            2604, 2732, 2816, 2900, 2972, 3032, 3092, 3248, 3300, 3370, 3440, 3520, 3620, 3680, 3740, 3800, 3860, 3932,
            4000, 4060, 4120, 4180, 4240, 4320, 4400, 4468, 4560, 4620, 4680, 4740, 4860, 4920, 4980, 5040, 5100, 5160,
            5220, 5280, 5340, 5400, 5460, 5520, 5580, 5684, 5804, 5872, 5940, 6012, 6072, 6132, 6192, 6292, 6332, 6432,
            6492, 6552, 6664, 6812, 6892, 6972, 7072, 7132, 7192, 7252, 7312, 7372, 7432, 7492, 7644, 7704, 7792, 7924,
            7984, 8044, 8104, 8164, 8224, 8292, 8552, 8612, 8672, 8732, 8804, 8832, 8900, 8980, 9052, 9112, 9172, 9232,
            9332, 9420, 9572, 9632, 9732, 9780, 9860]
adc_5995 = [8, 272, 332, 428, 488, 584, 656, 872, 932, 992, 1052, 1140, 1260, 1400, 1460, 1520, 1604, 1736, 1832, 1892, 1952,
            2012, 2048, 2312, 2360, 2444, 2588, 2636, 2692, 2768, 2828, 2900, 2996, 3044, 3104, 3284, 3320, 3488, 3608,
            3848, 3908, 4064, 4172, 4220, 4352, 4400, 4460, 4508, 4748, 4808, 4952, 5012, 5072, 5132, 5192, 5372, 5412,
            5492, 5580, 5684, 5744, 5804, 5864, 5960, 6012, 6100, 6180, 6252, 6332, 6552, 6636, 6852, 6940, 7012, 7116,
            7176, 7236, 7296, 7356, 7416, 7464, 7536, 7632, 7716, 7764, 7812, 7872, 7932, 7992, 8028, 8112, 8172, 8268,
            8436, 8676, 8760, 8880, 8952, 9184, 9276, 9324, 9432, 9504, 9576, 9672, 9804, 9860]
adc_5994 = [20, 428, 476, 512, 620, 884, 1064, 1280, 1388, 1436, 1460, 1544, 1724, 1808, 1952, 2120, 2168, 2408, 2468, 2720,
            2936, 3008, 3056, 3272, 3440, 3500, 3800, 3824, 4184, 4316, 4376, 4820, 4916, 5012, 5172, 5232, 5388, 5436,
            5484, 5544, 5676, 5784, 6012, 6444, 6504, 6576, 6780, 6840, 6948, 7008, 7068, 7128, 7260, 7368, 7440, 7548,
            7608, 7656, 7728, 7788, 7872, 8028, 8100, 8196, 8244, 8568, 8616, 8712, 8808, 8976, 9036, 9084, 9132, 9324,
            9432, 9540, 9780]
adc_5993 = [0, 44, 84, 260, 320, 380, 440, 740, 824, 872, 932, 992, 1040, 1124, 1364, 1412, 1748, 1832, 1952, 2000, 2048,
            2300, 2372, 2636, 3056, 3152, 3236, 3452, 3524, 3704, 3776, 3872, 4076, 4364, 4496, 4712, 4736, 4832, 4904,
            5072, 5172, 5256, 5280, 5376, 5436, 5484, 5616, 5688, 5820, 5952, 6048, 6144, 6384, 6432, 6492, 6564, 6636,
            6720, 6804, 6888, 6948, 7188, 7224, 7284, 7452, 7524, 7584, 7776, 7896, 8184, 8232, 8328, 8388, 8424, 8616,
            9408, 9588, 9860]
adc_5992 = [152, 212, 296, 344, 392, 512, 548, 608, 800, 836, 1064, 1136, 1172, 1556, 1736, 1796, 1868, 1904, 2372, 2456,
            2492, 2552, 2576, 2792, 2924, 2948, 3056, 3200, 3680, 4064, 4208, 4304, 4604, 4676, 4928, 4976, 5048, 5072,
            5232, 5292, 5376, 5544, 5616, 5844, 6024, 6108, 6252, 6360, 6396, 6480, 6600, 6660, 6816, 6972, 7200, 7524,
            7668, 7788, 8028, 8088, 8400, 8508, 8552, 8736, 8916, 8964, 9228, 9312, 9372, 9408, 9516, 9780, 9828]
adc_5991 = [176, 212, 524, 584, 716, 764, 836, 956, 1004, 1112, 1496, 1892, 2168, 2372, 2460, 2540, 2600, 2660, 2828, 2864,
            2924, 2984, 3284, 3344, 3392, 3440, 3668, 3764, 3968, 4292, 4340, 4712, 4772, 4832, 4928, 5000, 5196, 5352,
            5424, 5532, 5556, 5724, 5820, 6264, 6456, 6492, 6624, 6756, 6996, 7188, 7248, 7308, 7440, 7500, 7620, 8088,
            8208, 8436, 8604, 9060, 9156, 9252, 9384, 9444, 9552, 9600, 9756]
adc_5990 = [8, 164, 464, 536, 1424, 1700, 1832, 2096, 2228, 2264, 2948, 4952, 5148, 5196, 5388, 5640, 5868, 5952, 6120,
            6408, 7248, 7344, 7764, 8076, 8736, 8856, 9096, 9324, 9684]
adc_5989 = [80, 152, 236, 308, 1100, 1328, 1412, 1472, 1796, 1856, 1916, 2072, 2336, 2492, 2960, 5460, 5556, 5736, 6024,
            6528, 6912, 7140, 7536, 7884, 8100, 8772, 9420, 9768]
adc_5988 = [248, 848, 3044, 3296, 3992, 5400, 5460, 5976, 6192, 6384, 7632, 7824, 9168]
adc_5987 = [128, 248, 2504, 2636, 2792, 4808, 5316, 5688, 6000, 6828, 7872, 8808, 9744]
adc_5986 = [260, 608, 644, 1688, 4880, 7668]
adc_5985 = [1868, 3008]
adc_5984 = [332, 2420]
adc_5983 = [224, 3860]

levels = [6028, 6026, 6025, 6024, 6023, 6022, 6021, 6020, 6019, 6018, 6017, 6016, 6015, 6014, 6013, 6012, 6011, 6010,
          6009, 6008, 6007, 6006, 6005, 6004, 6003, 6002, 6001, 6000, 5999, 5998, 5997, 5996, 5995, 5994, 5993, 5992,
          5991, 5990, 5989, 5988, 5987, 5986, 5985, 5984, 5983]
rows = [adc_6028, adc_6026, adc_6025, adc_6024, adc_6023, adc_6022, adc_6021, adc_6020, adc_6019, adc_6018, adc_6017,
        adc_6016, adc_6015, adc_6014, adc_6013, adc_6012, adc_6011, adc_6010, adc_6009, adc_6008, adc_6007, adc_6006,
        adc_6005, adc_6004, adc_6003, adc_6002, adc_6001, adc_6000, adc_5999, adc_5998, adc_5997, adc_5996, adc_5995,
        adc_5994, adc_5993, adc_5992, adc_5991, adc_5990, adc_5989, adc_5988, adc_5987, adc_5986, adc_5985, adc_5984,
        adc_5983]

records = []
for level, row in zip(levels, rows):
    for sample in row:
        records.append((sample, level))
df = pd.DataFrame(records, columns=["sample", "adc"])

fig, ax = plt.subplots(figsize=(10, 10), dpi=100)
# lineplot with no line, so the dots are real line markers
sns.lineplot(data=df, x="sample", y="adc", ax=ax, estimator=None, sort=False, color="k",
             linestyle="none", marker=".", markersize=6, markeredgewidth=1, markeredgecolor="k",
             label="Samples\n$\\mu$ = 6004.45, $\\sigma$ = 6.03")
ax.set_title("Run 599, channel087, Pedestal")
ax.set_xlabel("Sample #")
ax.set_ylabel("ADC Counts")
ax.ticklabel_format(useOffset=False, style="plain", axis="y")
ax.grid(True)
ax.legend(loc="upper right")
fig.subplots_adjust(left=0.0795, right=0.985, top=0.964, bottom=0.058)
fig.savefig("out.png")
